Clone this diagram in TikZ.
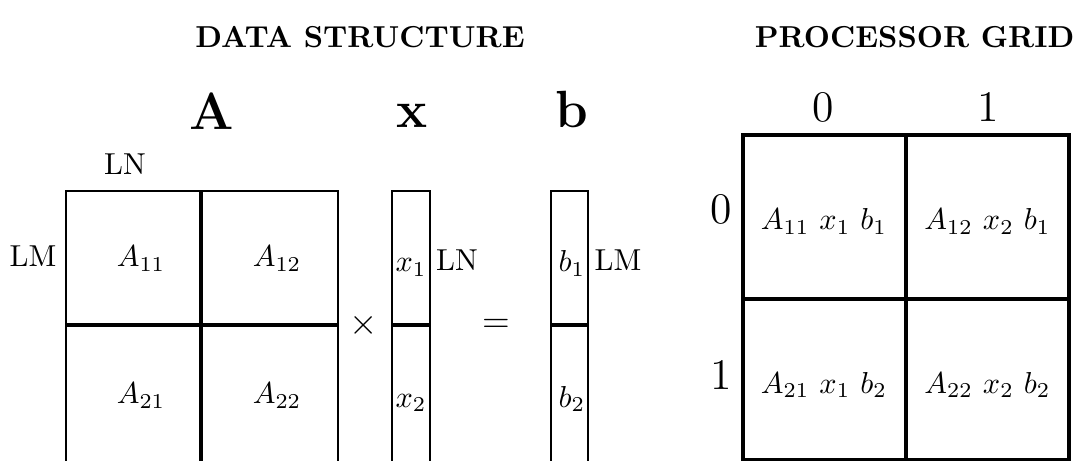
\documentclass[tikz,border=0pt]{standalone}
\usetikzlibrary{positioning}
\tikzset{
  title/.style={font=\fontsize{10}{12}\selectfont\bfseries,anchor=base},
  bigsym/.style={font=\LARGE\bfseries,anchor=base},
  lbl/.style={anchor=base},
  opsym/.style={font=\large,anchor=base},
  procnum/.style={font=\Large,anchor=base},
  outline/.style={line width=0.7pt},
  split/.style={line width=1.1pt},
  gridline/.style={line width=1.2pt}
}

\begin{document}
\begin{tikzpicture}[x=0.33pt,y=-0.33pt]
\useasboundingbox (0,0) rectangle (1088,461);
\clip (0,0) rectangle (1088,461);
% titles
\node[title] (dstitle) at (360,48) {DATA STRUCTURE};
\node[title,anchor=base east] (pgtitle) at (1085,48) {PROCESSOR GRID};
% A x = b
\node[bigsym] (bigA) at (212,130) {A};
\node[bigsym] (bigx) at (412,128) {x};
\node[bigsym] (bigb) at (572,128) {b};
\draw[outline] (66,470) -- (66,191) -- (338,191) -- (338,470);
\draw[split] (201,191) -- (201,470);
\draw[split] (66,325) -- (338,325);
\foreach \xl/\xr in {392/430,551/588}{
  \draw[outline] (\xl,470) -- (\xl,191) -- (\xr,191) -- (\xr,470);
  \draw[split] (\xl,325) -- (\xr,325);
}
\node[lbl] (lnA) at (125,175) {LN};
\node[lbl] (lmA) at (33,267) {LM};
\node[lbl] (a11) at (141,267) {$A_{11}$};
\node[lbl] (a12) at (277,267) {$A_{12}$};
\node[lbl] (a21) at (141,404) {$A_{21}$};
\node[lbl] (a22) at (277,404) {$A_{22}$};
\node[opsym] (times) at (364,335) {$\times$};
\node[lbl] (x1) at (411,272) {$x_1$};
\node[lbl] (x2) at (411,407) {$x_2$};
\node[lbl] (lnx) at (457,271) {LN};
\node[opsym] (equals) at (496,333) {$=$};
\node[lbl] (b1) at (572,272) {$b_1$};
\node[lbl] (b2) at (572,407) {$b_2$};
\node[lbl] (lmb) at (618,271) {LM};
% processor grid
\draw[gridline] (743,135) rectangle (1069,460);
\draw[gridline] (906,135) -- (906,460);
\draw[gridline] (743,299) -- (1069,299);
\node[procnum] (col0) at (823.5,122) {0};
\node[procnum] (col1) at (988,122) {1};
\node[procnum] (row0) at (721,224) {0};
\node[procnum] (row1) at (721,389) {1};
\node[lbl] (p00) at (824,230) {$A_{11}\ x_1\ b_1$};
\node[lbl] (p01) at (987.5,230) {$A_{12}\ x_2\ b_1$};
\node[lbl] (p10) at (824,393) {$A_{21}\ x_1\ b_2$};
\node[lbl] (p11) at (987.5,393) {$A_{22}\ x_2\ b_2$};
\end{tikzpicture}
\end{document}
